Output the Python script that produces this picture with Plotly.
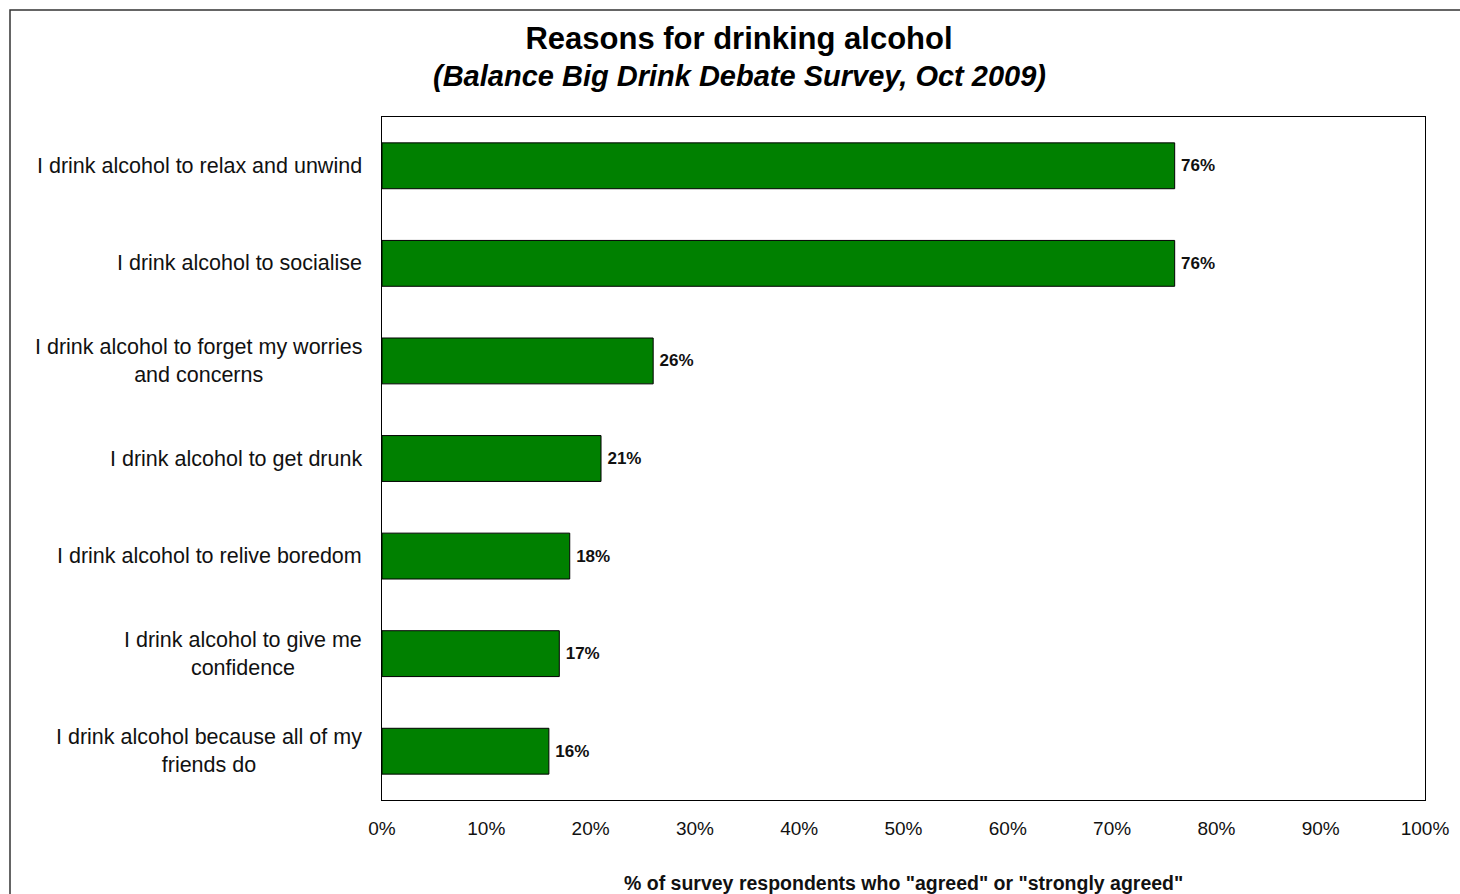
import plotly.graph_objects as go

# Survey statements (top to bottom) and share who agreed / strongly agreed (%)
reasons = [
    "I drink alcohol to relax and unwind",
    "I drink alcohol to socialise",
    "I drink alcohol to forget my worries<br>and concerns",
    "I drink alcohol to get drunk",
    "I drink alcohol to relive boredom",
    "I drink alcohol to give me<br>confidence",
    "I drink alcohol because all of my<br>friends do",
]
agreed_pct = [76, 76, 26, 21, 18, 17, 16]
x_ticks = [0, 10, 20, 30, 40, 50, 60, 70, 80, 90, 100]
x_tick_labels = [f"{v}%" for v in x_ticks]

W, H = 1460, 894
ML, MR, MT, MB = 382, 35, 117, 94
plot_w = W - ML - MR
plot_h = H - MT - MB


def px_y(py):
    """Pixel row (from top) to paper y coordinate."""
    return (H - MB - py) / plot_h


def px_x(px):
    """Pixel column (from left) to paper x coordinate."""
    return (px - ML) / plot_w


FONT = "Liberation Sans, Arial, sans-serif"
TITLE_X = px_x(739)

fig = go.Figure(
    go.Bar(
        x=agreed_pct,
        y=reasons,
        orientation="h",
        width=0.47,
        marker=dict(color="#008000", line=dict(color="#000000", width=1)),
        text=[f"\u2009{v}%" for v in agreed_pct],
        textposition="outside",
        textfont=dict(family=FONT, size=17, color="#111111", weight="bold"),
        cliponaxis=False,
        hoverinfo="skip",
    )
)

# category labels, centred line-by-line to the left of the plot area
annotations = []
for r in reasons:
    annotations.append(dict(
        x=0, xref="paper", y=r, yref="y", xanchor="right", yanchor="middle",
        xshift=-18, text=r, showarrow=False, align="center",
        font=dict(family=FONT, size=21.5, color="#111111"),
    ))

# subtitle
annotations.append(dict(
    x=TITLE_X, xref="paper", y=px_y(76), yref="paper", xanchor="center", yanchor="middle",
    text="<b><i>(Balance Big Drink Debate Survey, Oct 2009)</i></b>", showarrow=False,
    font=dict(family=FONT, size=29, color="#000000"),
))

# x-axis caption
annotations.append(dict(
    x=0.5, xref="paper", y=px_y(883), yref="paper", yanchor="middle",
    text='<b>% of survey respondents who "agreed" or "strongly agreed"</b>', showarrow=False,
    font=dict(family=FONT, size=19.5, color="#111111"),
))

# outer chart frame
shapes = [dict(
    type="rect", xref="paper", yref="paper",
    x0=px_x(10), x1=px_x(W + 20),
    y0=px_y(H + 20), y1=px_y(10),
    line=dict(color="#333333", width=1.5), fillcolor="rgba(0,0,0,0)", layer="below",
)]

fig.update_layout(
    width=W, height=H,
    margin=dict(l=ML, r=MR, t=MT, b=MB),
    paper_bgcolor="white", plot_bgcolor="white",
    showlegend=False,
    title=dict(
        text="<b>Reasons for drinking alcohol</b>",
        x=TITLE_X, xref="paper", xanchor="center",
        y=1 - 38 / H, yref="container", yanchor="middle",
        font=dict(family=FONT, size=31, color="#000000"),
    ),
    xaxis=dict(
        range=[0, 100], tickvals=x_ticks, ticktext=x_tick_labels,
        showgrid=False, zeroline=False, ticks="",
        showline=True, linecolor="#000000", linewidth=1, mirror=True,
        tickfont=dict(family=FONT, size=19, color="#111111"),
        ticklabelstandoff=11,
    ),
    yaxis=dict(
        categoryorder="array", categoryarray=reasons, autorange="reversed",
        showticklabels=False, showgrid=False, zeroline=False, ticks="",
        showline=True, linecolor="#000000", linewidth=1, mirror=True,
    ),
    annotations=annotations,
    shapes=shapes,
)

fig.write_html("out.html")
